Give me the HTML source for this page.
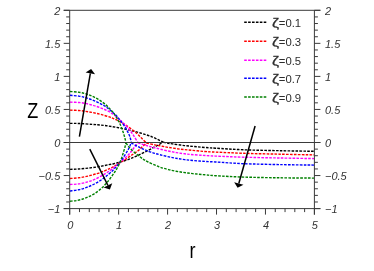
<!DOCTYPE html>
<html><head><meta charset="utf-8"><title>Z vs r</title>
<style>html,body{margin:0;padding:0;background:#fff;overflow:hidden}body{width:374px;height:271px;font-family:"Liberation Sans",sans-serif}</style>
</head><body>
<svg width="374" height="271" viewBox="0 0 374 271" style="display:block;opacity:0.999;will-change:transform">
<rect width="374" height="271" fill="#ffffff"/>
<g fill="none" stroke-width="1.4" stroke-dasharray="2.6 1.3">
<path d="M70.00 123.40 C71.57 123.42 75.62 123.33 79.40 123.50 C83.18 123.67 89.27 124.15 92.70 124.40 C96.13 124.65 97.50 124.75 100.00 125.00 C102.50 125.25 105.12 125.53 107.70 125.90 C110.28 126.27 112.92 126.73 115.50 127.20 C118.08 127.67 120.62 128.15 123.20 128.70 C125.78 129.25 128.42 129.87 131.00 130.50 C133.58 131.13 136.20 131.80 138.70 132.50 C141.20 133.20 143.78 133.98 146.00 134.70 C148.22 135.42 150.08 136.03 152.00 136.80 C153.92 137.57 155.62 138.40 157.50 139.30 C159.38 140.20 162.33 141.72 163.30 142.20" stroke="#000000"/>
<path d="M70.00 169.40 C71.48 169.33 75.70 169.23 78.90 169.00 C82.10 168.77 85.77 168.42 89.20 168.00 C92.63 167.58 96.27 167.05 99.50 166.50 C102.73 165.95 106.23 165.17 108.60 164.70 C110.97 164.23 111.97 164.08 113.70 163.70 C115.43 163.32 116.53 163.12 119.00 162.40 C121.47 161.68 125.42 160.53 128.50 159.40 C131.58 158.27 134.22 157.12 137.50 155.60 C140.78 154.08 144.90 151.98 148.20 150.30 C151.50 148.62 154.78 146.85 157.30 145.50 C159.82 144.15 162.30 142.75 163.30 142.20" stroke="#000000"/>
<path d="M163.30 142.20 C163.92 142.35 165.47 142.82 167.00 143.10 C168.53 143.38 169.55 143.48 172.50 143.90 C175.45 144.32 180.63 145.12 184.70 145.60 C188.77 146.08 192.83 146.43 196.90 146.80 C200.97 147.17 205.98 147.57 209.10 147.80 C212.22 148.03 209.78 147.87 215.60 148.20 C221.42 148.53 233.27 149.38 244.00 149.80 C254.73 150.22 268.33 150.45 280.00 150.70 C291.67 150.95 308.33 151.20 314.00 151.30" stroke="#000000"/>
<path d="M70.00 110.10 C71.48 110.17 76.33 110.30 78.90 110.50 C81.47 110.70 83.25 110.98 85.40 111.30 C87.55 111.62 89.65 111.98 91.80 112.40 C93.95 112.82 96.15 113.28 98.30 113.80 C100.45 114.32 102.75 114.93 104.70 115.50 C106.65 116.07 108.53 116.68 110.00 117.20 C111.47 117.72 111.93 117.90 113.50 118.60 C115.07 119.30 117.35 120.30 119.40 121.40 C121.45 122.50 123.65 123.80 125.80 125.20 C127.95 126.60 130.37 128.33 132.30 129.80 C134.23 131.27 135.87 132.63 137.40 134.00 C138.93 135.37 140.00 136.50 141.50 138.00 C143.00 139.50 145.58 142.17 146.40 143.00" stroke="#ff0000"/>
<path d="M70.00 178.50 C71.48 178.38 75.92 178.20 78.90 177.80 C81.88 177.40 84.88 176.80 87.90 176.10 C90.92 175.40 94.20 174.48 97.00 173.60 C99.80 172.72 102.53 171.67 104.70 170.80 C106.87 169.93 108.53 169.10 110.00 168.40 C111.47 167.70 112.00 167.45 113.50 166.60 C115.00 165.75 116.87 164.60 119.00 163.30 C121.13 162.00 124.03 160.27 126.30 158.80 C128.57 157.33 130.70 155.80 132.60 154.50 C134.50 153.20 136.22 152.17 137.70 151.00 C139.18 149.83 140.05 148.83 141.50 147.50 C142.95 146.17 145.58 143.75 146.40 143.00" stroke="#ff0000"/>
<path d="M146.40 143.00 C147.83 143.32 152.57 144.40 155.00 144.90 C157.43 145.40 158.75 145.58 161.00 146.00 C163.25 146.42 165.22 146.87 168.50 147.40 C171.78 147.93 176.65 148.70 180.70 149.20 C184.75 149.70 188.75 150.02 192.80 150.40 C196.85 150.78 201.20 151.22 205.00 151.50 C208.80 151.78 209.10 151.80 215.60 152.10 C222.10 152.40 233.27 152.95 244.00 153.30 C254.73 153.65 268.33 153.93 280.00 154.20 C291.67 154.47 308.33 154.78 314.00 154.90" stroke="#ff0000"/>
<path d="M70.00 102.10 C71.48 102.17 76.33 102.28 78.90 102.50 C81.47 102.72 83.25 102.98 85.40 103.40 C87.55 103.82 89.65 104.40 91.80 105.00 C93.95 105.60 96.15 106.25 98.30 107.00 C100.45 107.75 102.70 108.60 104.70 109.50 C106.70 110.40 108.50 111.32 110.30 112.40 C112.10 113.48 113.78 114.65 115.50 116.00 C117.22 117.35 118.88 118.92 120.60 120.50 C122.32 122.08 124.18 123.78 125.80 125.50 C127.42 127.22 128.93 129.02 130.30 130.80 C131.67 132.58 132.72 134.23 134.00 136.20 C135.28 138.17 137.33 141.53 138.00 142.60" stroke="#ff00ff"/>
<path d="M70.00 184.50 C71.48 184.40 75.92 184.35 78.90 183.90 C81.88 183.45 85.10 182.63 87.90 181.80 C90.70 180.97 93.12 180.07 95.70 178.90 C98.28 177.73 101.03 176.18 103.40 174.80 C105.77 173.42 108.13 171.82 109.90 170.60 C111.67 169.38 112.48 168.72 114.00 167.50 C115.52 166.28 117.18 164.85 119.00 163.30 C120.82 161.75 123.07 159.92 124.90 158.20 C126.73 156.48 128.48 154.73 130.00 153.00 C131.52 151.27 132.67 149.53 134.00 147.80 C135.33 146.07 137.33 143.47 138.00 142.60" stroke="#ff00ff"/>
<path d="M138.00 142.80 C139.33 143.23 143.67 144.68 146.00 145.40 C148.33 146.12 149.60 146.47 152.00 147.10 C154.40 147.73 156.98 148.40 160.40 149.20 C163.82 150.00 168.45 151.13 172.50 151.90 C176.55 152.67 180.30 153.27 184.70 153.80 C189.10 154.33 193.75 154.72 198.90 155.10 C204.05 155.48 208.08 155.75 215.60 156.10 C223.12 156.45 233.27 156.88 244.00 157.20 C254.73 157.52 268.33 157.77 280.00 158.00 C291.67 158.23 308.33 158.50 314.00 158.60" stroke="#ff00ff"/>
<path d="M70.00 95.30 C71.48 95.43 76.33 95.72 78.90 96.10 C81.47 96.48 83.25 97.00 85.40 97.60 C87.55 98.20 89.65 98.87 91.80 99.70 C93.95 100.53 96.15 101.55 98.30 102.60 C100.45 103.65 102.75 104.77 104.70 106.00 C106.65 107.23 108.20 108.53 110.00 110.00 C111.80 111.47 113.93 113.23 115.50 114.80 C117.07 116.37 118.08 117.78 119.40 119.40 C120.72 121.02 122.20 122.78 123.40 124.50 C124.60 126.22 125.68 128.08 126.60 129.70 C127.52 131.32 128.28 132.82 128.90 134.20 C129.52 135.58 129.90 136.62 130.30 138.00 C130.70 139.38 131.13 141.75 131.30 142.50" stroke="#0000ff"/>
<path d="M70.00 191.00 C71.48 190.78 76.13 190.30 78.90 189.70 C81.67 189.10 84.02 188.35 86.60 187.40 C89.18 186.45 91.82 185.33 94.40 184.00 C96.98 182.67 99.73 181.02 102.10 179.40 C104.47 177.78 106.67 175.95 108.60 174.30 C110.53 172.65 112.30 170.92 113.70 169.50 C115.10 168.08 115.95 167.02 117.00 165.80 C118.05 164.58 118.95 163.58 120.00 162.20 C121.05 160.82 122.22 159.12 123.30 157.50 C124.38 155.88 125.63 153.92 126.50 152.50 C127.37 151.08 127.92 150.12 128.50 149.00 C129.08 147.88 129.53 146.88 130.00 145.80 C130.47 144.72 131.08 143.05 131.30 142.50" stroke="#0000ff"/>
<path d="M131.30 142.80 C132.32 143.38 135.32 145.20 137.40 146.30 C139.48 147.40 141.53 148.42 143.80 149.40 C146.07 150.38 148.30 151.30 151.00 152.20 C153.70 153.10 156.42 153.90 160.00 154.80 C163.58 155.70 168.38 156.80 172.50 157.60 C176.62 158.40 180.30 159.03 184.70 159.60 C189.10 160.17 193.75 160.60 198.90 161.00 C204.05 161.40 208.08 161.55 215.60 162.00 C223.12 162.45 233.27 163.27 244.00 163.70 C254.73 164.13 268.33 164.37 280.00 164.60 C291.67 164.83 308.33 165.02 314.00 165.10" stroke="#0000ff"/>
<path d="M70.00 91.50 C71.48 91.62 76.33 91.83 78.90 92.20 C81.47 92.57 83.25 93.05 85.40 93.70 C87.55 94.35 89.65 95.15 91.80 96.10 C93.95 97.05 96.15 98.10 98.30 99.40 C100.45 100.70 102.75 102.30 104.70 103.90 C106.65 105.50 108.42 107.35 110.00 109.00 C111.58 110.65 112.97 112.13 114.20 113.80 C115.43 115.47 116.43 117.30 117.40 119.00 C118.37 120.70 119.23 122.33 120.00 124.00 C120.77 125.67 121.40 127.42 122.00 129.00 C122.60 130.58 123.10 131.92 123.60 133.50 C124.10 135.08 124.60 137.00 125.00 138.50 C125.40 140.00 125.83 141.83 126.00 142.50" stroke="#008000"/>
<path d="M70.00 201.20 C71.05 201.10 74.17 200.97 76.30 200.60 C78.43 200.23 80.65 199.68 82.80 199.00 C84.95 198.32 87.05 197.53 89.20 196.50 C91.35 195.47 93.65 194.17 95.70 192.80 C97.75 191.43 99.78 189.83 101.50 188.30 C103.22 186.77 104.58 185.18 106.00 183.60 C107.42 182.02 108.72 180.48 110.00 178.80 C111.28 177.12 112.62 175.08 113.70 173.50 C114.78 171.92 115.50 171.07 116.50 169.30 C117.50 167.53 118.82 164.87 119.70 162.90 C120.58 160.93 121.17 159.32 121.80 157.50 C122.43 155.68 122.97 153.75 123.50 152.00 C124.03 150.25 124.58 148.58 125.00 147.00 C125.42 145.42 125.83 143.25 126.00 142.50" stroke="#008000"/>
<path d="M126.00 143.00 C126.60 143.77 128.13 145.98 129.60 147.60 C131.07 149.22 132.97 151.08 134.80 152.70 C136.63 154.32 139.10 156.15 140.60 157.30 C142.10 158.45 142.55 158.82 143.80 159.60 C145.05 160.38 145.68 160.85 148.10 162.00 C150.52 163.15 154.90 165.23 158.30 166.50 C161.70 167.77 164.77 168.68 168.50 169.60 C172.23 170.52 176.65 171.33 180.70 172.00 C184.75 172.67 188.75 173.13 192.80 173.60 C196.85 174.07 201.20 174.45 205.00 174.80 C208.80 175.15 209.10 175.32 215.60 175.70 C222.10 176.08 233.27 176.75 244.00 177.10 C254.73 177.45 268.33 177.63 280.00 177.80 C291.67 177.97 308.33 178.05 314.00 178.10" stroke="#008000"/>
</g>
<g stroke="#3a3a3a" stroke-width="1" fill="none" shape-rendering="auto">
<path d="M69.7 10.3 V214.6"/>
<path d="M314.4 10.3 V214.6"/>
<path d="M63.7 10.3 H320.4"/>
<path d="M63.7 208.6 H320.4"/>
<path d="M63.7 142.5 H320.4"/>
<path d="M63.7 10.30 H69.7"/>
<path d="M314.4 10.30 H320.4"/>
<path d="M66.2 16.91 H69.7"/>
<path d="M314.4 16.91 H317.9"/>
<path d="M66.2 23.52 H69.7"/>
<path d="M314.4 23.52 H317.9"/>
<path d="M66.2 30.13 H69.7"/>
<path d="M314.4 30.13 H317.9"/>
<path d="M66.2 36.74 H69.7"/>
<path d="M314.4 36.74 H317.9"/>
<path d="M63.7 43.35 H69.7"/>
<path d="M314.4 43.35 H320.4"/>
<path d="M66.2 49.96 H69.7"/>
<path d="M314.4 49.96 H317.9"/>
<path d="M66.2 56.57 H69.7"/>
<path d="M314.4 56.57 H317.9"/>
<path d="M66.2 63.18 H69.7"/>
<path d="M314.4 63.18 H317.9"/>
<path d="M66.2 69.79 H69.7"/>
<path d="M314.4 69.79 H317.9"/>
<path d="M63.7 76.40 H69.7"/>
<path d="M314.4 76.40 H320.4"/>
<path d="M66.2 83.01 H69.7"/>
<path d="M314.4 83.01 H317.9"/>
<path d="M66.2 89.62 H69.7"/>
<path d="M314.4 89.62 H317.9"/>
<path d="M66.2 96.23 H69.7"/>
<path d="M314.4 96.23 H317.9"/>
<path d="M66.2 102.84 H69.7"/>
<path d="M314.4 102.84 H317.9"/>
<path d="M63.7 109.45 H69.7"/>
<path d="M314.4 109.45 H320.4"/>
<path d="M66.2 116.06 H69.7"/>
<path d="M314.4 116.06 H317.9"/>
<path d="M66.2 122.67 H69.7"/>
<path d="M314.4 122.67 H317.9"/>
<path d="M66.2 129.28 H69.7"/>
<path d="M314.4 129.28 H317.9"/>
<path d="M66.2 135.89 H69.7"/>
<path d="M314.4 135.89 H317.9"/>
<path d="M63.7 142.50 H69.7"/>
<path d="M314.4 142.50 H320.4"/>
<path d="M66.2 149.11 H69.7"/>
<path d="M314.4 149.11 H317.9"/>
<path d="M66.2 155.72 H69.7"/>
<path d="M314.4 155.72 H317.9"/>
<path d="M66.2 162.33 H69.7"/>
<path d="M314.4 162.33 H317.9"/>
<path d="M66.2 168.94 H69.7"/>
<path d="M314.4 168.94 H317.9"/>
<path d="M63.7 175.55 H69.7"/>
<path d="M314.4 175.55 H320.4"/>
<path d="M66.2 182.16 H69.7"/>
<path d="M314.4 182.16 H317.9"/>
<path d="M66.2 188.77 H69.7"/>
<path d="M314.4 188.77 H317.9"/>
<path d="M66.2 195.38 H69.7"/>
<path d="M314.4 195.38 H317.9"/>
<path d="M66.2 201.99 H69.7"/>
<path d="M314.4 201.99 H317.9"/>
<path d="M63.7 208.60 H69.7"/>
<path d="M314.4 208.60 H320.4"/>
<path d="M69.70 208.6 V214.6"/>
<path d="M79.49 208.6 V212.1"/>
<path d="M89.28 208.6 V212.1"/>
<path d="M99.06 208.6 V212.1"/>
<path d="M108.85 208.6 V212.1"/>
<path d="M118.64 208.6 V214.6"/>
<path d="M128.43 208.6 V212.1"/>
<path d="M138.22 208.6 V212.1"/>
<path d="M148.00 208.6 V212.1"/>
<path d="M157.79 208.6 V212.1"/>
<path d="M167.58 208.6 V214.6"/>
<path d="M177.37 208.6 V212.1"/>
<path d="M187.16 208.6 V212.1"/>
<path d="M196.94 208.6 V212.1"/>
<path d="M206.73 208.6 V212.1"/>
<path d="M216.52 208.6 V214.6"/>
<path d="M226.31 208.6 V212.1"/>
<path d="M236.10 208.6 V212.1"/>
<path d="M245.88 208.6 V212.1"/>
<path d="M255.67 208.6 V212.1"/>
<path d="M265.46 208.6 V214.6"/>
<path d="M275.25 208.6 V212.1"/>
<path d="M285.04 208.6 V212.1"/>
<path d="M294.82 208.6 V212.1"/>
<path d="M304.61 208.6 V212.1"/>
<path d="M314.40 208.6 V214.6"/>
</g>
<g font-family="Liberation Sans, sans-serif" font-style="italic" font-size="11" fill="#333333">
<text x="60.3" y="14.6" text-anchor="end">2</text>
<text x="325.0" y="14.6" text-anchor="start">2</text>
<text x="60.3" y="47.6" text-anchor="end">1.5</text>
<text x="325.0" y="47.6" text-anchor="start">1.5</text>
<text x="60.3" y="80.7" text-anchor="end">1</text>
<text x="325.0" y="80.7" text-anchor="start">1</text>
<text x="60.3" y="113.7" text-anchor="end">0.5</text>
<text x="325.0" y="113.7" text-anchor="start">0.5</text>
<text x="60.3" y="146.8" text-anchor="end">0</text>
<text x="325.0" y="146.8" text-anchor="start">0</text>
<text x="60.3" y="179.8" text-anchor="end">−0.5</text>
<text x="325.0" y="179.8" text-anchor="start">−0.5</text>
<text x="60.3" y="212.9" text-anchor="end">−1</text>
<text x="325.0" y="212.9" text-anchor="start">−1</text>
<text x="70.2" y="228.5" text-anchor="middle">0</text>
<text x="119.1" y="228.5" text-anchor="middle">1</text>
<text x="168.1" y="228.5" text-anchor="middle">2</text>
<text x="217.0" y="228.5" text-anchor="middle">3</text>
<text x="266.0" y="228.5" text-anchor="middle">4</text>
<text x="314.9" y="228.5" text-anchor="middle">5</text>
</g>
<text font-family="Liberation Sans, sans-serif" font-size="21.2" fill="#000" text-anchor="middle" transform="translate(32.7 117.8) scale(0.85 1)">Z</text>
<text font-family="Liberation Sans, sans-serif" font-size="22.3" fill="#000" text-anchor="middle" transform="translate(192.4 257.8) scale(0.81 1)">r</text>
<g fill="none" stroke-width="1.4" stroke-dasharray="2.6 1.3">
<path d="M244.2 22.3 H266.3" stroke="#000000"/>
<path d="M244.2 41.3 H266.3" stroke="#ff0000"/>
<path d="M244.2 60.2 H266.3" stroke="#ff00ff"/>
<path d="M244.2 78.3 H266.3" stroke="#0000ff"/>
<path d="M244.2 97.0 H266.3" stroke="#008000"/>
</g>
<g font-family="Liberation Sans, sans-serif" fill="#2e2e2e">
<text font-size="13.5" stroke="#2e2e2e" stroke-width="0.25" transform="translate(272.0 27.4) scale(1.19 1)">ζ</text>
<text font-size="11.3" x="278.8" y="27.4">=0.1</text>
<text font-size="13.5" stroke="#2e2e2e" stroke-width="0.25" transform="translate(272.0 46.4) scale(1.19 1)">ζ</text>
<text font-size="11.3" x="278.8" y="46.4">=0.3</text>
<text font-size="13.5" stroke="#2e2e2e" stroke-width="0.25" transform="translate(272.0 65.3) scale(1.19 1)">ζ</text>
<text font-size="11.3" x="278.8" y="65.3">=0.5</text>
<text font-size="13.5" stroke="#2e2e2e" stroke-width="0.25" transform="translate(272.0 83.4) scale(1.19 1)">ζ</text>
<text font-size="11.3" x="278.8" y="83.4">=0.7</text>
<text font-size="13.5" stroke="#2e2e2e" stroke-width="0.25" transform="translate(272.0 102.1) scale(1.19 1)">ζ</text>
<text font-size="11.3" x="278.8" y="102.1">=0.9</text>
</g>
<path d="M79.40 136.70 L90.35 73.34" stroke="#000" stroke-width="1.5" fill="none"/><path d="M91.10 69.00 L95.08 74.15 L85.62 72.52 Z" fill="#000"/>
<path d="M89.80 149.10 L107.94 185.46" stroke="#000" stroke-width="1.5" fill="none"/><path d="M109.90 189.40 L103.64 187.60 L112.23 183.32 Z" fill="#000"/>
<path d="M255.10 126.00 L238.80 183.57" stroke="#000" stroke-width="1.5" fill="none"/><path d="M237.60 187.80 L234.18 182.26 L243.42 184.87 Z" fill="#000"/>
</svg>
</body></html>
